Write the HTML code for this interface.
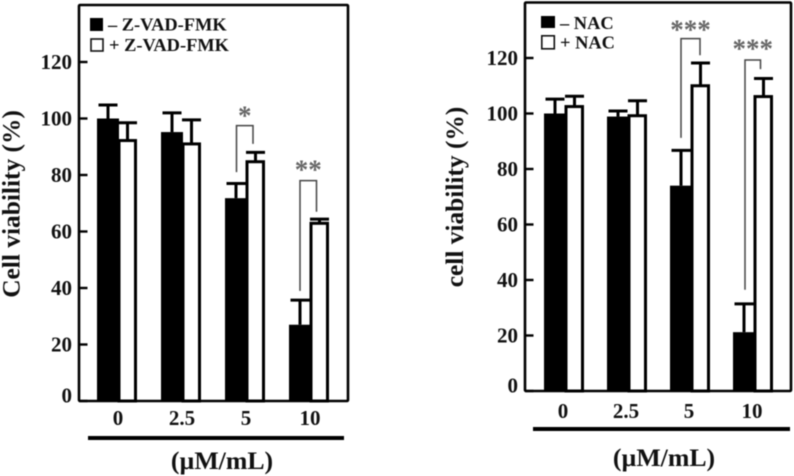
<!DOCTYPE html>
<html lang="en">
<head>
<meta charset="utf-8">
<title>Cell viability charts</title>
<style>
html,body{margin:0;padding:0;background:#fff;width:794px;height:476px;overflow:hidden}
svg{display:block;filter:blur(0.5px)}
text{font-family:"Liberation Serif",serif;font-weight:bold;fill:#111}
</style>
</head>
<body>
<svg id="chart" width="794" height="476" viewBox="0 0 794 476" xmlns="http://www.w3.org/2000/svg">
  <text transform="translate(19.5,204) rotate(-90)" text-anchor="middle" font-size="25.4">Cell viability (%)</text>
  <text x="222" y="469" text-anchor="middle" font-size="25.8">(µM/mL)</text>
  <rect x="88" y="436" width="256" height="4" fill="#000"/>
  <rect x="90" y="18" width="13" height="13" fill="#000"/>
  <rect x="91" y="39" width="12" height="12" fill="#fff" stroke="#111" stroke-width="1.6"/>
  <text x="108" y="30.5" font-size="18.4">– Z-VAD-FMK</text>
  <text x="109" y="51" font-size="18.4">+ Z-VAD-FMK</text>

  <text transform="translate(463,197) rotate(-90)" text-anchor="middle" font-size="25.4">cell viability (%)</text>
  <text x="664" y="466" text-anchor="middle" font-size="25.8">(µM/mL)</text>
  <rect x="533" y="427" width="257" height="4" fill="#000"/>
  <rect x="541" y="16" width="14" height="12" fill="#000"/>
  <rect x="541.8" y="35.8" width="12.5" height="13" fill="#fff" stroke="#111" stroke-width="1.6"/>
  <text x="560" y="29" font-size="18.4">– NAC</text>
  <text x="560" y="48.7" font-size="18.4">+ NAC</text>
</svg>
<script>
var categories = ['0', '2.5', '5', '10'];
var yTicks = [0, 20, 40, 60, 80, 100, 120];

var zvadWithout = [100, 95.2, 71.8, 27];
var zvadWithoutErrTop = [104.8, 102, 77, 35.7];
var zvadWith = [92.2, 91, 84.7, 62.9];
var zvadWithErrTop = [98.5, 99.5, 88, 64.4];
var zvadSigCategories = [2, 3];
var zvadSigStars = ['*', '**'];
var zvadSigTop = [97.5, 78];
var zvadSigLeftEnd = [81, 39];
var zvadSigRightEnd = [91, 67];

var nacWithout = [100, 98.9, 74, 21.2];
var nacWithoutErrTop = [105.2, 100.9, 86.7, 31.4];
var nacWith = [102.5, 99.2, 110, 106.1];
var nacWithErrTop = [106.2, 104.6, 118.2, 112.6];
var nacSigCategories = [2, 3];
var nacSigStars = ['***', '***'];
var nacSigTop = [127, 119.3];
var nacSigLeftEnd = [91.2, 36.5];
var nacSigRightEnd = [121, 116];

var svg = document.getElementById('chart');
var NS = 'http://www.w3.org/2000/svg';

function make(tag, attrs, name, parent) {
  var el = document.createElementNS(NS, tag);
  for (var k in attrs) el.setAttribute(k, attrs[k]);
  
  
  (parent || svg).appendChild(el);
  return el;
}

function drawPanel(p) {
  var id = p.id;
  var group = make('g', {}, id + '-bar-chart');
  function y(v) { return p.bottom - v * p.unit; }
  function groupX(i) { return p.x0 + p.step * i; }
  function blackCenter(i) { return groupX(i) + 11; }
  function whiteCenter(i) { return groupX(i) + 30.5; }

  function errorBar(cx, from, to, name) {
    make('line', {x1: cx, x2: cx, y1: y(from), y2: y(to), stroke: '#000', 'stroke-width': 3}, name + '-stem', group);
    make('line', {x1: cx - 9.5, x2: cx + 9.5, y1: y(to), y2: y(to), stroke: '#000', 'stroke-width': 3}, name + '-cap', group);
  }

  categories.forEach(function (c, i) {
    var gx = groupX(i);
    errorBar(blackCenter(i), p.without[i], p.withoutErr[i], id + '-error-without-' + c);
    make('rect', {x: gx, y: y(p.without[i]), width: 22, height: p.bottom - y(p.without[i]), fill: '#000'}, id + '-bar-without-' + c, group);
    errorBar(whiteCenter(i), p.withV[i], p.withErr[i], id + '-error-with-' + c);
    make('rect', {x: gx + 22, y: y(p.withV[i]), width: 16.5, height: p.bottom - y(p.withV[i]), fill: '#fff', stroke: '#000', 'stroke-width': 3}, id + '-bar-with-' + c, group);
    var label = make('text', {x: blackCenter(i) + p.labelShift, y: p.labelY, 'text-anchor': 'middle', 'font-size': 21}, id + '-x-tick-label-' + c);
    label.textContent = c;
  });

  make('rect', {x: p.left, y: p.top, width: p.right - p.left, height: p.bottom - p.top, fill: 'none', stroke: '#000', 'stroke-width': 2.6, rx: 1}, id + '-plot-frame');

  yTicks.forEach(function (t) {
    make('line', {x1: p.left, x2: p.left + 8.5, y1: y(t), y2: y(t), stroke: '#000', 'stroke-width': 2.4}, id + '-y-tick-' + t);
    var label = make('text', {x: p.left - 7, y: y(t) + 7 - (t === 0 ? 5.5 : 0), 'text-anchor': 'end', 'font-size': 21}, id + '-y-tick-label-' + t);
    label.textContent = t;
  });

  p.sigCats.forEach(function (cat, k) {
    var xl = blackCenter(cat) + p.sigLeftShift[k];
    var xr = whiteCenter(cat) + p.sigRightShift[k];
    var top = y(p.sigTop[k]);
    make('path', {d: 'M' + xl + ' ' + y(p.sigLeft[k]) + 'V' + top + 'H' + xr + 'V' + y(p.sigRight[k]), fill: 'none', stroke: '#444', 'stroke-width': 1.5}, id + '-significance-bracket-' + categories[cat]);
    var star = make('text', {x: (xl + xr) / 2, y: top + p.starOffset[k], 'text-anchor': 'middle', 'font-size': 27, style: 'font-weight:bold;fill:#666'}, id + '-significance-stars-' + categories[cat]);
    star.textContent = p.stars[k];
  });
}

drawPanel({
  id: 'left', left: 79, right: 348, top: 5, bottom: 401, unit: 2.825, x0: 97, step: 64,
  labelY: 425, labelShift: 10,
  without: zvadWithout, withoutErr: zvadWithoutErrTop, withV: zvadWith, withErr: zvadWithErrTop,
  sigCats: zvadSigCategories, stars: zvadSigStars, sigTop: zvadSigTop, sigLeft: zvadSigLeftEnd, sigRight: zvadSigRightEnd,
  sigLeftShift: [0.5, 0], sigRightShift: [-2.5, -3], starOffset: [-1, -2.3]
});

drawPanel({
  id: 'right', left: 525, right: 791, top: 2.5, bottom: 391, unit: 2.775, x0: 544, step: 63,
  labelY: 418, labelShift: 8,
  without: nacWithout, withoutErr: nacWithoutErrTop, withV: nacWith, withErr: nacWithErrTop,
  sigCats: nacSigCategories, stars: nacSigStars, sigTop: nacSigTop, sigLeft: nacSigLeftEnd, sigRight: nacSigRightEnd,
  sigLeftShift: [0, 1], sigRightShift: [-0.5, -3], starOffset: [-0.3, -2.3]
});
</script>
</body>
</html>
